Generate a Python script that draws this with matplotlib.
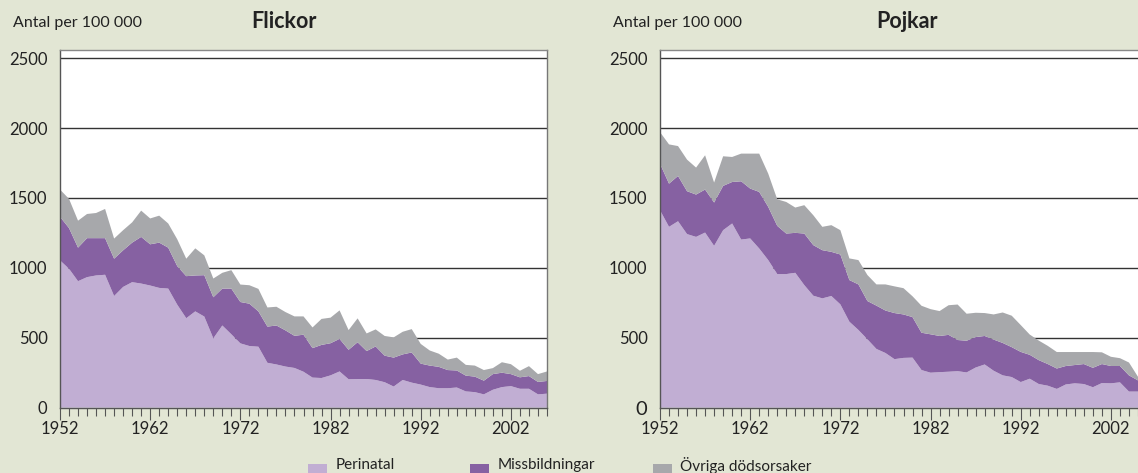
import matplotlib
matplotlib.use("Agg")
import matplotlib.pyplot as plt
from matplotlib.patches import Rectangle
from matplotlib.ticker import MultipleLocator
import numpy as np

plt.rcParams['font.family'] = ['Lato', 'DejaVu Sans']

# years 1952-2006
years = np.arange(1952, 2007)

# Flickor (girls), deaths per 100 000
flickor_perinatal = [1053, 993, 904, 933, 945, 950, 798, 863, 897, 887,
                     873, 856, 851, 736, 639, 688, 651, 495, 587, 524,
                     459, 440, 435, 320, 308, 293, 283, 256, 214, 211,
                     230, 258, 202, 204, 204, 197, 181, 150, 197, 178,
                     164, 146, 138, 138, 143, 115, 110, 94, 127, 146,
                     153, 134, 134, 94, 99]
flickor_missbildningar = [312, 291, 240, 279, 267, 262, 267, 262, 283, 334,
                          295, 324, 293, 276, 301, 257, 296, 294, 264, 327,
                          296, 303, 253, 259, 279, 259, 230, 265, 211, 237,
                          230, 233, 211, 263, 200, 240, 190, 207, 183, 216,
                          150, 154, 153, 130, 122, 113, 111, 98, 112, 103,
                          86, 82, 91, 89, 91]
flickor_ovriga = [195, 209, 193, 173, 180, 209, 144, 144, 145, 188,
                  185, 193, 173, 192, 125, 194, 142, 134, 113, 132,
                  125, 132, 161, 137, 134, 131, 139, 131, 148, 186,
                  183, 204, 141, 171, 126, 122, 141, 145, 162, 167,
                  141, 108, 94, 75, 92, 77, 79, 76, 43, 75,
                  71, 47, 71, 56, 68]

# Pojkar (boys)
pojkar_perinatal = [1412, 1293, 1333, 1241, 1221, 1252, 1157, 1269, 1317, 1202,
                    1210, 1138, 1055, 955, 955, 964, 876, 800, 781, 798,
                    738, 614, 555, 488, 419, 390, 346, 355, 357, 268,
                    249, 253, 256, 260, 251, 286, 308, 263, 230, 218,
                    182, 206, 168, 156, 133, 165, 173, 168, 145, 175,
                    173, 180, 114, 114, 114]
pojkar_missbildningar = [333, 309, 324, 307, 303, 308, 310, 317, 297, 417,
                         357, 405, 381, 345, 290, 286, 369, 362, 345, 316,
                         357, 298, 326, 274, 310, 304, 330, 311, 290, 267,
                         275, 259, 264, 223, 227, 218, 204, 223, 232, 214,
                         216, 171, 171, 155, 146, 132, 131, 143, 139, 136,
                         124, 117, 116, 80, 76]
pojkar_ovriga = [226, 281, 214, 226, 193, 245, 143, 212, 179, 198,
                 250, 274, 238, 190, 226, 181, 203, 214, 167, 191,
                 174, 155, 174, 186, 152, 187, 191, 188, 149, 193,
                 180, 178, 212, 254, 193, 174, 164, 180, 218, 225,
                 192, 145, 140, 130, 118, 100, 93, 86, 113, 84,
                 66, 56, 92, 26, 24]

labels = ['Perinatal', 'Missbildningar', 'Övriga dödsorsaker']
colors = ['#c1aed3', '#8661a2', '#a7a8ab']
bg = '#e2e6d4'
frame = '#555555'

fig = plt.figure(figsize=(11.38, 4.73), dpi=100, facecolor=bg)

W, H = 1138.0, 473.0
ax_w = 487 / W
ax_b = (H - 407.5) / H
ax_h = (407.5 - 50.5) / H

panels = [
    (60, 'Flickor', [flickor_perinatal, flickor_missbildningar, flickor_ovriga], 283.5),
    (660, 'Pojkar', [pojkar_perinatal, pojkar_missbildningar, pojkar_ovriga], 907.5),
]

for left_px, title, series, title_x in panels:
    ax = fig.add_axes([left_px / W, ax_b, ax_w, ax_h])
    ax.set_facecolor('white')
    ax.stackplot(years, *series, colors=colors, linewidth=0, zorder=2)
    ax.set_xlim(1952, 2006)
    ax.set_ylim(0, 2555)
    ax.set_yticks([0, 500, 1000, 1500, 2000, 2500])
    ax.yaxis.grid(True, color='#333333', linewidth=1.0, zorder=1)
    ax.set_axisbelow(True)
    ax.set_xticks(np.arange(1952, 2006, 10))
    ax.xaxis.set_minor_locator(MultipleLocator(1))
    ax.tick_params(axis='y', length=0, pad=9, labelsize=12, colors='#222222')
    ax.tick_params(axis='x', which='major', direction='out', length=8.5, width=0.8,
                   color=frame, pad=1.5, labelsize=12, labelcolor='#222222')
    ax.tick_params(axis='x', which='minor', direction='out', length=6, width=0.8,
                   color=frame)
    for s in ax.spines.values():
        s.set_color(frame)
        s.set_linewidth(1.0)
    ax.spines['top'].set_color('#888888')
    ax.spines['right'].set_color('#777777')
    if title == 'Pojkar':
        ax.get_yticklabels()[0].set_fontsize(14.5)

    fig.text((left_px - 47) / W, 1 - 23 / H, 'Antal per 100 000', fontsize=11.5,
             ha='left', va='center', color='#222222')
    fig.text(title_x / W, 1 - 22 / H, title, fontsize=15.5, fontweight='bold',
             ha='center', va='center', color='#222222')

# legend along the bottom edge
legend_x = [308, 470, 652.5]
for x, lab, col in zip(legend_x, labels, colors):
    fig.add_artist(Rectangle((x / W, (H - 478) / H), 19 / W, 14 / H,
                             transform=fig.transFigure, facecolor=col,
                             edgecolor='none'))
    fig.text((x + 28) / W, (H - 465) / H, lab, fontsize=11, ha='left',
             va='center', color='#222222')

fig.savefig('out.png', dpi=100, facecolor=bg)
